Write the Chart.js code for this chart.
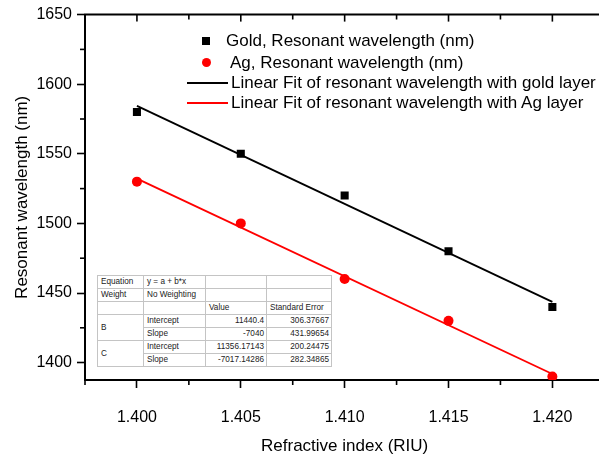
<!DOCTYPE html>
<html>
<head>
<meta charset="utf-8">
<script src="https://cdn.jsdelivr.net/npm/chart.js@4.4.1/dist/chart.umd.min.js"></script>
<style>
  html, body { margin: 0; padding: 0; background: #fff; overflow: hidden; }
  #wrap { position: relative; width: 599px; height: 459px; overflow: hidden; }
  #c { position: absolute; left: 0; top: 0; }
  .leg { position: absolute; font-family: "Liberation Sans", Arial, sans-serif; font-size: 17px; line-height: 20px; color: #000; white-space: nowrap; }
  .mk { position: absolute; }
  #fitTable { position: absolute; left: 97px; top: 275px; width: 228px; table-layout: fixed; border-collapse: collapse; background: #fff;
    font-family: "Liberation Sans", Arial, sans-serif; font-size: 8.2px; color: #222; border: 1.5px solid #8a8a8a; }
  #fitTable td { border: 1px solid #c4c4c4; height: 12px; padding: 0 2px 0 3px; line-height: 12px; white-space: nowrap; overflow: hidden; }
  #fitTable td.num { text-align: right; }
</style>
</head>
<body>
<div id="wrap">
  <canvas id="c" width="610" height="459"></canvas>
  <div class="mk" style="left:202px;top:37px;width:8px;height:8px;background:#000;"></div>
  <div class="leg" style="left:226px;top:31px;" id="leg1"></div>
  <div class="mk" style="left:202px;top:58px;width:9px;height:9px;border-radius:50%;background:#f00;"></div>
  <div class="leg" style="left:230px;top:53px;" id="leg2"></div>
  <div class="mk" style="left:187px;top:82px;width:41px;height:2px;background:#000;"></div>
  <div class="leg" style="left:231px;top:73px;" id="leg3"></div>
  <div class="mk" style="left:187px;top:102px;width:41px;height:2px;background:#f00;"></div>
  <div class="leg" style="left:231px;top:93px;" id="leg4"></div>
  <table id="fitTable"></table>
</div>
<script>
'use strict';
// data
let refIndex = [1.400, 1.405, 1.410, 1.415, 1.420];
let goldWl = [1580, 1550, 1520, 1480, 1440];
let agWl = [1530, 1500, 1460, 1430, 1390];
// fit lines, ends at 1.400 and 1.420
let fitX = [1.400, 1.420];
let goldFit = [1584.4, 1443.6];
let agFit = [1532.2, 1391.8];

let xTicks = [1.400, 1.405, 1.410, 1.415, 1.420];
let yTicks = [1400, 1450, 1500, 1550, 1600, 1650];

let legendNames = [
  'Gold, Resonant wavelength (nm)',
  'Ag, Resonant wavelength (nm)',
  'Linear Fit of resonant wavelength with gold layer',
  'Linear Fit of resonant wavelength with Ag layer'
];
let xTitle = 'Refractive index (RIU)';
let yTitle = 'Resonant wavelength (nm)';

let tableHead = [
  ['Equation', 'y = a + b*x', '', ''],
  ['Weight', 'No Weighting', '', ''],
  ['', '', 'Value', 'Standard Error']
];
let tableGroups = ['B', 'C'];
let tableParams = ['Intercept', 'Slope'];
let tableValues = [['11440.4', '-7040'], ['11356.17143', '-7017.14286']];
let tableErrors = [['306.37667', '431.99654'], ['200.24475', '282.34865']];

for (let i = 0; i < legendNames.length; i++) {
  document.getElementById('leg' + (i + 1)).textContent = legendNames[i];
}

// table
let tbl = document.getElementById('fitTable');
let widths = [45, 61, 60, 64];
for (let r = 0; r < tableHead.length; r++) {
  let tr = document.createElement('tr');
  for (let c = 0; c < 4; c++) {
    let td = document.createElement('td');
    td.textContent = tableHead[r][c];
    if (r === 0) td.style.width = (widths[c] - 5) + 'px';
    tr.appendChild(td);
  }
  tbl.appendChild(tr);
}
for (let g = 0; g < tableGroups.length; g++) {
  for (let p = 0; p < tableParams.length; p++) {
    let tr = document.createElement('tr');
    if (p === 0) {
      let td = document.createElement('td');
      td.rowSpan = 2;
      td.textContent = tableGroups[g];
      tr.appendChild(td);
    }
    let td1 = document.createElement('td');
    td1.textContent = tableParams[p];
    let td2 = document.createElement('td');
    td2.className = 'num';
    td2.textContent = tableValues[g][p];
    let td3 = document.createElement('td');
    td3.className = 'num';
    td3.textContent = tableErrors[g][p];
    tr.appendChild(td1); tr.appendChild(td2); tr.appendChild(td3);
    tbl.appendChild(tr);
  }
}

function pts(xs, ys) {
  return xs.map((x, i) => ({x: x, y: ys[i]}));
}

// top frame line + minor ticks (half way between major ticks)
const framePlugin = {
  id: 'framePlugin',
  afterDraw(chart) {
    const ctx = chart.ctx;
    const a = chart.chartArea;
    const x = chart.scales.x;
    const y = chart.scales.y;
    let xs = [];
    let xStep = xTicks[1] - xTicks[0];
    for (let i = -1; i < xTicks.length; i++) {
      let m = (i < 0 ? xTicks[0] : xTicks[i]) + (i < 0 ? -xStep / 2 : xStep / 2);
      xs.push({v: m, major: false});
      if (i >= 0) xs.push({v: xTicks[i], major: true});
    }
    ctx.save();
    ctx.strokeStyle = '#000';
    ctx.lineWidth = 2;
    ctx.beginPath();
    ctx.moveTo(a.left - 1, a.top);
    ctx.lineTo(a.right, a.top);
    ctx.stroke();
    ctx.lineWidth = 1.6;
    xs.forEach(t => {
      if (t.v < x.min || t.v > x.max) return;
      let px = x.getPixelForValue(t.v);
      ctx.beginPath();
      if (!t.major) {
        ctx.moveTo(px, a.bottom);
        ctx.lineTo(px, a.bottom + 5);
      }
      ctx.moveTo(px, a.top);
      ctx.lineTo(px, a.top + (t.major ? 7 : 5));
      ctx.stroke();
    });
    let yStep = yTicks[1] - yTicks[0];
    for (let i = 0; i < yTicks.length; i++) {
      let m = yTicks[i] - yStep / 2;
      if (m < y.min) continue;
      let py = y.getPixelForValue(m);
      ctx.beginPath();
      ctx.moveTo(a.left, py);
      ctx.lineTo(a.left - 5, py);
      ctx.stroke();
    }
    ctx.restore();
  }
};

const font = '"Liberation Sans", Arial, sans-serif';

new Chart(document.getElementById('c'), {
  type: 'scatter',
  data: {
    datasets: [{
      label: legendNames[0],
      data: pts(refIndex, goldWl),
      pointStyle: 'rect',
      pointRadius: 5.7,
      pointHoverRadius: 5.7,
      backgroundColor: '#000',
      borderColor: '#000',
      borderWidth: 0,
      showLine: false
    }, {
      label: legendNames[1],
      data: pts(refIndex, agWl),
      pointStyle: 'circle',
      pointRadius: 5,
      pointHoverRadius: 5,
      backgroundColor: '#f00',
      borderColor: '#f00',
      borderWidth: 0,
      showLine: false
    }, {
      label: legendNames[2],
      data: pts(fitX, goldFit),
      showLine: true,
      borderColor: '#000',
      borderWidth: 1.8,
      pointRadius: 0
    }, {
      label: legendNames[3],
      data: pts(fitX, agFit),
      showLine: true,
      borderColor: '#f00',
      borderWidth: 1.8,
      pointRadius: 0
    }]
  },
  options: {
    responsive: false,
    animation: false,
    devicePixelRatio: 1,
    layout: {padding: {top: 14, right: 2, left: 0, bottom: 0}},
    plugins: {legend: {display: false}, tooltip: {enabled: false}},
    scales: {
      x: {
        type: 'linear',
        min: 1.3975,
        max: 1.4225,
        afterFit: function (s) { s.height = 79; },
        afterBuildTicks: function (s) { s.ticks = xTicks.map(v => ({value: v})); },
        ticks: {
          color: '#000',
          padding: 20,
          font: {family: font, size: 16},
          callback: function (v) { return Number(v).toFixed(3); }
        },
        grid: {drawOnChartArea: false, tickLength: 8, tickWidth: 1.6, tickColor: '#000'},
        border: {display: true, color: '#000', width: 2},
        title: {display: true, text: xTitle, color: '#000', font: {family: font, size: 17}, padding: {top: 0, bottom: 2}}
      },
      y: {
        min: 1387.5,
        max: 1650,
        afterFit: function (s) { s.width = 85; },
        afterBuildTicks: function (s) { s.ticks = yTicks.map(v => ({value: v})); },
        ticks: {
          color: '#000',
          padding: 5,
          font: {family: font, size: 16},
          callback: function (v) { return String(v); }
        },
        grid: {drawOnChartArea: false, tickLength: 8, tickWidth: 1.6, tickColor: '#000'},
        border: {display: true, color: '#000', width: 2},
        title: {display: true, text: yTitle, color: '#000', font: {family: font, size: 17}, padding: {top: 12, bottom: 0}}
      }
    }
  },
  plugins: [framePlugin]
});
</script>
</body>
</html>
